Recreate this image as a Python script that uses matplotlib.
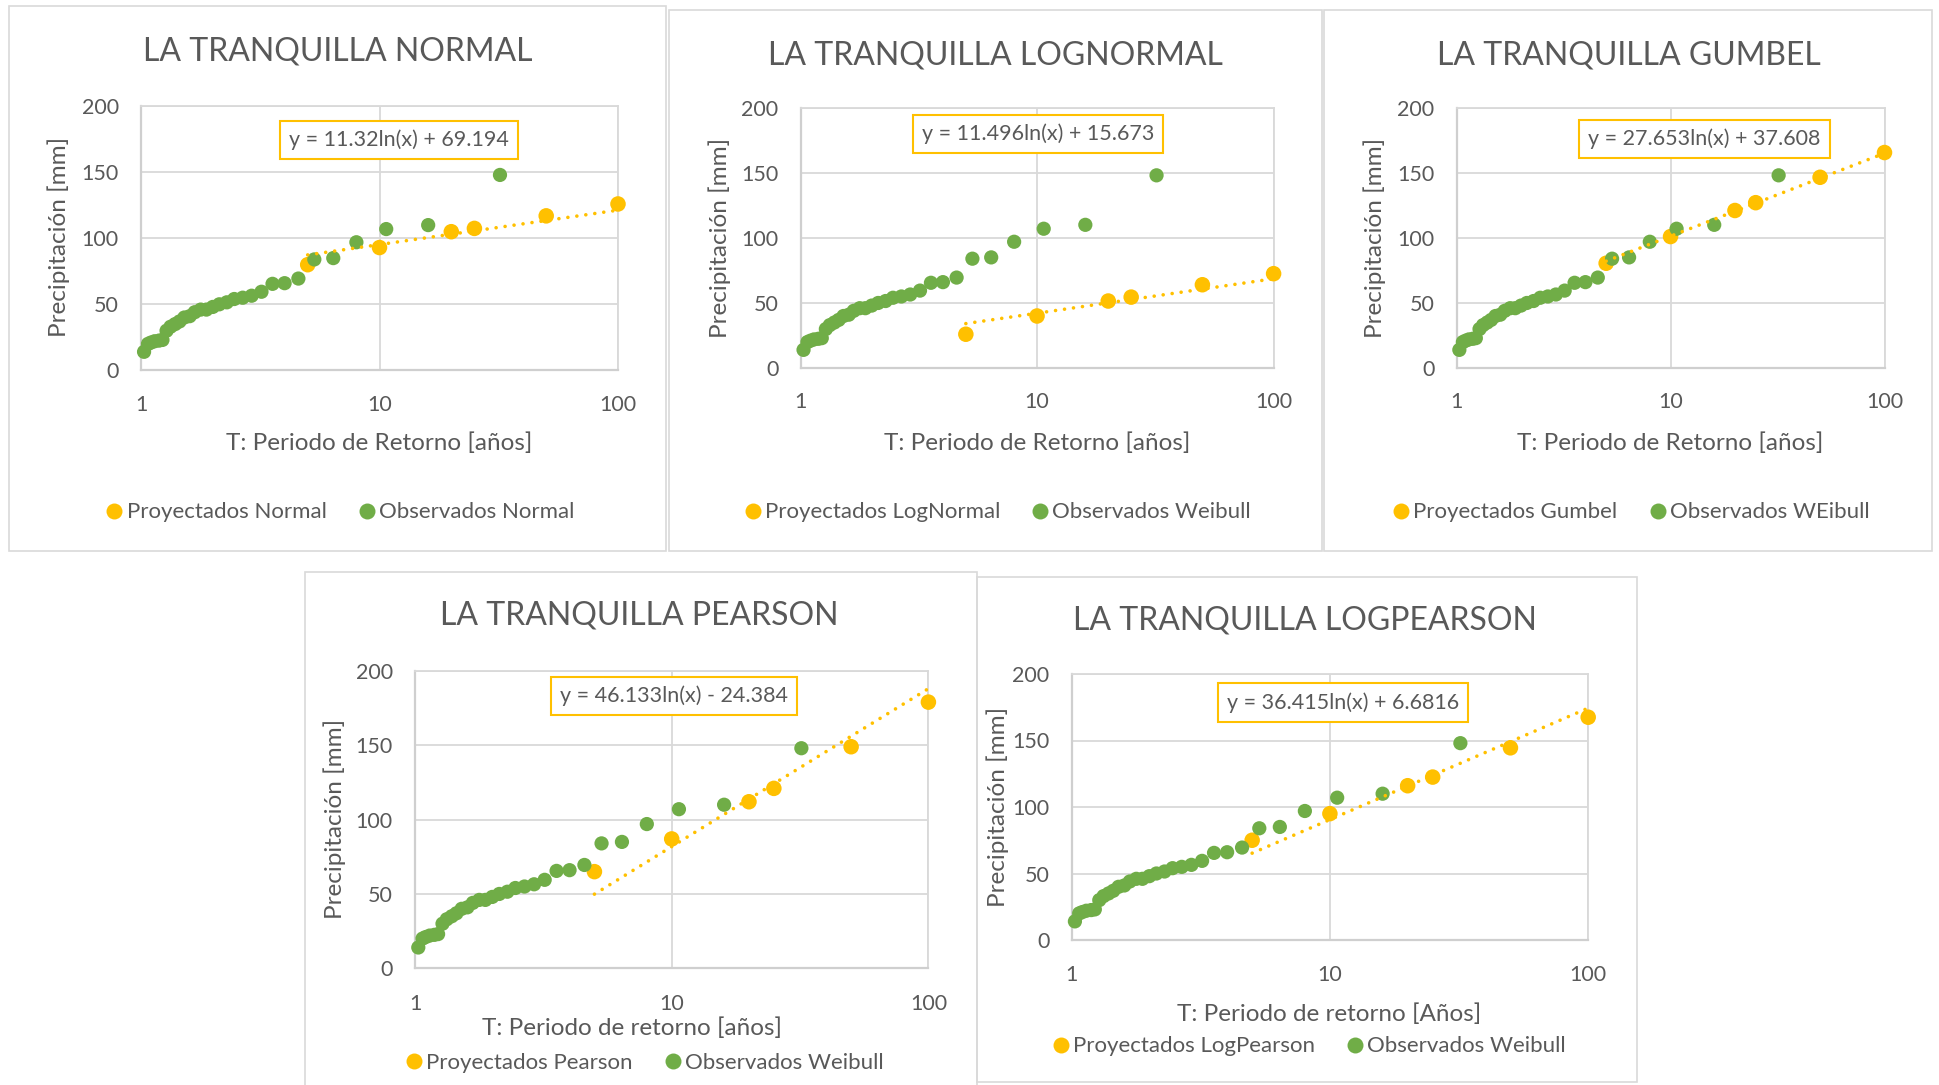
import numpy as np
import matplotlib
matplotlib.use("Agg")
import matplotlib.pyplot as plt
from matplotlib.patches import Rectangle
from matplotlib.lines import Line2D
from matplotlib.ticker import NullLocator

plt.rcParams['font.family'] = ['Lato', 'DejaVu Sans']

W, H, DPI = 1939, 1085, 100

# Observed maxima with their Weibull return periods (years)
t_obs = [1.03, 1.07, 1.10, 1.14, 1.19, 1.23, 1.28, 1.33, 1.39, 1.45, 1.52,
         1.60, 1.68, 1.78, 1.88, 2.00, 2.13, 2.29, 2.46, 2.67, 2.91, 3.20,
         3.56, 4.00, 4.57, 5.33, 6.40, 8.00, 10.67, 16.00, 32.00]
p_obs = [14, 20, 21, 22, 22.5, 23, 30, 33, 35, 37, 40,
         41, 44, 46, 46, 48, 50, 51.5, 54, 55, 56.5, 59.5,
         65.5, 66, 69.5, 84, 85, 97, 107, 110, 148]

# Projected precipitation for each distribution
t_proj = [5, 10, 20, 25, 50, 100]
p_normal = [80, 93, 105, 107.5, 117, 126]
p_lognormal = [26, 40, 51.5, 54.5, 64, 72.5]
p_gumbel = [80.5, 101, 121, 127, 146.5, 165.5]
p_pearson = [65, 87, 112, 121, 149, 179]
p_logpearson = [75, 95, 116, 122.5, 144.5, 167.5]

# Logarithmic trend coefficients: y = a*ln(x) + b
trend_normal = (11.32, 69.194)
trend_lognormal = (11.496, 15.673)
trend_gumbel = (27.653, 37.608)
trend_pearson = (46.133, -24.384)
trend_logpearson = (36.415, 6.6816)

titles = ["LA TRANQUILLA NORMAL", "LA TRANQUILLA LOGNORMAL", "LA TRANQUILLA GUMBEL",
          "LA TRANQUILLA PEARSON", "LA TRANQUILLA LOGPEARSON"]
xlabels = ["T: Periodo de Retorno [años]", "T: Periodo de Retorno [años]",
           "T: Periodo de Retorno [años]", "T: Periodo de retorno [años]",
           "T: Periodo de retorno [Años]"]
legend_proj = ["Proyectados Normal", "Proyectados LogNormal", "Proyectados Gumbel",
               "Proyectados Pearson", "Proyectados LogPearson"]
legend_obs = ["Observados Normal", "Observados Weibull", "Observados WEibull",
              "Observados Weibull", "Observados Weibull"]
proj_series = [p_normal, p_lognormal, p_gumbel, p_pearson, p_logpearson]
trends = [trend_normal, trend_lognormal, trend_gumbel, trend_pearson, trend_logpearson]

YELLOW = '#FFC000'
GREEN = '#70AD47'
TEXT = '#595959'
GRID = '#D9D9D9'

# Layout in pixels: panel frame, plot area, and text anchors
layout = [
    dict(frame=(9, 6, 666, 551), plot=(141, 106.3, 618, 370.3),
         title=(338, 60.3), xlab=(379, 450), ylab=(58.2, 237),
         leg=(341, 512.5), eq=(0.541, 0.872), xpad=17.5),
    dict(frame=(668.5, 10, 1321.5, 551), plot=(800.5, 107.6, 1273.6, 368.1),
         title=(995.4, 64.9), xlab=(1037, 450), ylab=(719.7, 238.4),
         leg=(998.5, 512.5), eq=(0.502, 0.899), xpad=17.5),
    dict(frame=(1323.5, 10, 1932, 551), plot=(1456.6, 107.6, 1884.5, 368.1),
         title=(1629, 64.9), xlab=(1670, 450), ylab=(1374.7, 238.4),
         leg=(1632, 512.5), eq=(0.579, 0.880), xpad=17.5),
    dict(frame=(304.5, 572, 976.5, 1090), plot=(415, 670.9, 928.4, 968.3),
         title=(639.6, 624.5), xlab=(632.4, 1034.5), ylab=(334.3, 819.3),
         leg=(645.5, 1063), eq=(0.504, 0.916), xpad=18.5),
    dict(frame=(977, 576.5, 1636.5, 1082), plot=(1071.6, 674, 1588.2, 940),
         title=(1305.3, 629.5), xlab=(1329.2, 1021), ylab=(998.1, 807.3),
         leg=(1310, 1046.5), eq=(0.526, 0.893), xpad=18),
]

fig = plt.figure(figsize=(W / DPI, H / DPI), dpi=DPI)
fig.patch.set_facecolor('white')


def fx(x):
    return x / W


def fy(y):
    return 1 - y / H


for i, g in enumerate(layout):
    # panel frame
    x0, y0, x1, y1 = g['frame']
    fig.add_artist(Rectangle((fx(x0), fy(y1)), fx(x1 - x0), (y1 - y0) / H,
                             transform=fig.transFigure, facecolor='none',
                             edgecolor=GRID, lw=1.2, zorder=0))

    l, t, r, b = g['plot']
    ax = fig.add_axes([fx(l), fy(b), fx(r - l), (b - t) / H])
    ax.set_xscale('log')
    ax.set_xlim(1, 100)
    ax.set_ylim(0, 200)
    ax.set_xticks([1, 10, 100])
    ax.set_xticklabels(['1', '10', '100'])
    ax.xaxis.set_minor_locator(NullLocator())
    ax.set_yticks([0, 50, 100, 150, 200])
    ax.grid(True, color=GRID, lw=1.3)
    ax.set_axisbelow(True)
    for side in ['top', 'right']:
        ax.spines[side].set_color(GRID)
        ax.spines[side].set_linewidth(1.3)
    for side in ['left', 'bottom']:
        ax.spines[side].set_color('#CFCFCF')
        ax.spines[side].set_linewidth(1.6)
    ax.tick_params(axis='both', length=0, labelsize=15.5, labelcolor=TEXT)
    ax.tick_params(axis='y', pad=16)
    ax.tick_params(axis='x', pad=g['xpad'])

    ax.scatter(t_proj, proj_series[i], s=125, color=YELLOW, edgecolors='none',
               zorder=3, clip_on=False)
    ax.scatter(t_obs, p_obs, s=105, color=GREEN, edgecolors='none',
               zorder=4, clip_on=False)

    a, c = trends[i]
    xt = np.geomspace(5, 100, 200)
    ax.plot(xt, a * np.log(xt) + c, color=YELLOW, lw=2.6,
            linestyle=(0, (0.01, 2.5)), dash_capstyle='round', zorder=5,
            clip_on=False)

    sign = '+' if c >= 0 else '-'
    eq = f"y = {a:g}ln(x) {sign} {abs(c):g}"
    ax.text(g['eq'][0], g['eq'][1], eq, transform=ax.transAxes,
            ha='center', va='center', fontsize=15.5, color=TEXT, zorder=6,
            bbox=dict(boxstyle='square,pad=0.42', facecolor='white',
                      edgecolor=YELLOW, lw=1.5))

    fig.text(fx(g['title'][0]), fy(g['title'][1]), titles[i], ha='center',
             va='baseline', fontsize=23, color=TEXT)
    fig.text(fx(g['xlab'][0]), fy(g['xlab'][1]), xlabels[i], ha='center',
             va='baseline', fontsize=17.5, color=TEXT)
    fig.text(fx(g['ylab'][0]), fy(g['ylab'][1]), "Precipitación [mm]",
             ha='center', va='center', rotation=90, fontsize=17.5, color=TEXT)

    handles = [Line2D([], [], ls='none', marker='o', ms=11.5, color=YELLOW,
                      mec='none'),
               Line2D([], [], ls='none', marker='o', ms=11.5, color=GREEN,
                      mec='none')]
    ax.legend(handles, [legend_proj[i], legend_obs[i]], loc='center',
              bbox_to_anchor=(fx(g['leg'][0]), fy(g['leg'][1])),
              bbox_transform=fig.transFigure, ncol=2, frameon=False,
              fontsize=16, labelcolor=TEXT, handlelength=0.6,
              handletextpad=0.25, columnspacing=1.5, borderpad=0,
              borderaxespad=0)

fig.savefig('out.png', dpi=DPI, facecolor='white')
